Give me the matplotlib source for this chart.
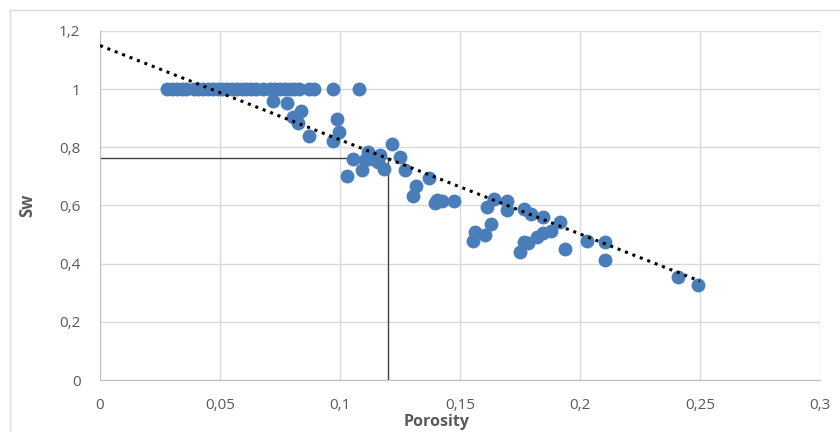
import matplotlib
matplotlib.use("Agg")
import matplotlib.pyplot as plt
from matplotlib.ticker import FuncFormatter, MultipleLocator
from matplotlib.lines import Line2D

# porosity / water saturation samples
porosity = [
    0.028, 0.030, 0.032, 0.034, 0.036, 0.039, 0.041, 0.043, 0.045, 0.047,
    0.049, 0.051, 0.053, 0.055, 0.057, 0.059, 0.061, 0.063, 0.065, 0.068,
    0.071, 0.073, 0.075, 0.077, 0.079, 0.081, 0.083, 0.087, 0.089, 0.097,
    0.108,
    0.072, 0.078, 0.0838, 0.0805, 0.0826, 0.087, 0.0986, 0.0994, 0.097,
    0.1056, 0.1028, 0.109, 0.1118, 0.1104, 0.1139, 0.1167, 0.116, 0.1185,
    0.1215, 0.125, 0.127, 0.1372, 0.1317, 0.1306, 0.1403, 0.1396, 0.1424,
    0.1475, 0.1643, 0.1614, 0.1694, 0.1697, 0.1767, 0.1794, 0.1847, 0.1917,
    0.1628, 0.1563, 0.1553, 0.1604, 0.1767, 0.1782, 0.175, 0.1822, 0.1844,
    0.1879, 0.1938, 0.2028, 0.2104, 0.2104, 0.2407, 0.2493,
]
sw = [
    1.0, 1.0, 1.0, 1.0, 1.0, 1.0, 1.0, 1.0, 1.0, 1.0,
    1.0, 1.0, 1.0, 1.0, 1.0, 1.0, 1.0, 1.0, 1.0, 1.0,
    1.0, 1.0, 1.0, 1.0, 1.0, 1.0, 1.0, 1.0, 1.0, 1.0,
    1.0,
    0.959, 0.953, 0.924, 0.903, 0.884, 0.838, 0.899, 0.853, 0.821,
    0.761, 0.700, 0.721, 0.784, 0.755, 0.761, 0.775, 0.749, 0.726,
    0.813, 0.767, 0.721, 0.695, 0.666, 0.634, 0.620, 0.609, 0.615,
    0.615, 0.623, 0.594, 0.617, 0.586, 0.588, 0.571, 0.560, 0.543,
    0.537, 0.508, 0.479, 0.500, 0.476, 0.470, 0.439, 0.493, 0.504,
    0.514, 0.451, 0.479, 0.474, 0.414, 0.355, 0.328,
]

# linear trendline Sw = a + b * phi
trend_a = 1.15
trend_b = -3.24
trend_x = [0.0, 0.25]

# read-off for phi = 0.12
cut_phi = 0.12
cut_sw = 0.765

fig = plt.figure(figsize=(8.4, 4.32), dpi=100)
ax = fig.add_axes([100 / 840, 1 - 380 / 432, 720 / 840, 349 / 432])

ax.scatter(porosity, sw, s=100, color="#4a7ebb", zorder=3, linewidths=0)
ax.plot(trend_x, [trend_a + trend_b * x for x in trend_x],
        color="black", linestyle=(0, (1, 1.6)), linewidth=2.2, zorder=4)
ax.plot([0, cut_phi], [cut_sw, cut_sw], color="#404040", linewidth=1, zorder=2)
ax.plot([cut_phi, cut_phi], [0, cut_sw], color="#404040", linewidth=1, zorder=2)

ax.set_xlim(0, 0.3)
ax.set_ylim(0, 1.2)
ax.xaxis.set_major_locator(MultipleLocator(0.05))
ax.yaxis.set_major_locator(MultipleLocator(0.2))
comma = FuncFormatter(lambda v, p: ("%g" % round(v, 3)).replace(".", ","))
ax.xaxis.set_major_formatter(comma)
ax.yaxis.set_major_formatter(comma)

ax.grid(True, color="#d9d9d9", linewidth=1)
ax.set_axisbelow(True)
for side in ["top", "right"]:
    ax.spines[side].set_visible(False)
ax.spines["left"].set_color("#bfbfbf")
ax.spines["bottom"].set_color("#bfbfbf")
ax.tick_params(length=0, labelsize=11, labelcolor="#595959")
for lab in ax.get_xticklabels() + ax.get_yticklabels():
    lab.set_family("Open Sans")
ax.tick_params(axis="x", pad=13)
ax.tick_params(axis="y", pad=14)

ax.set_xlabel("Porosity", fontsize=11.5, fontweight="bold", color="#595959",
              family="Open Sans")
ax.xaxis.set_label_coords(0.468, -0.096)
ax.set_ylabel("Sw", fontsize=12, fontweight="bold", color="#595959",
              family="Open Sans")
ax.yaxis.set_label_coords(-0.088, 0.5)

# chart area border
fig.add_artist(Line2D([10 / 840, 10 / 840], [0, 1 - 10 / 432],
                      transform=fig.transFigure, color="#d9d9d9", linewidth=1))
fig.add_artist(Line2D([10 / 840, 1], [1 - 10 / 432, 1 - 10 / 432],
                      transform=fig.transFigure, color="#d9d9d9", linewidth=1))

fig.savefig("out.png", dpi=100)
